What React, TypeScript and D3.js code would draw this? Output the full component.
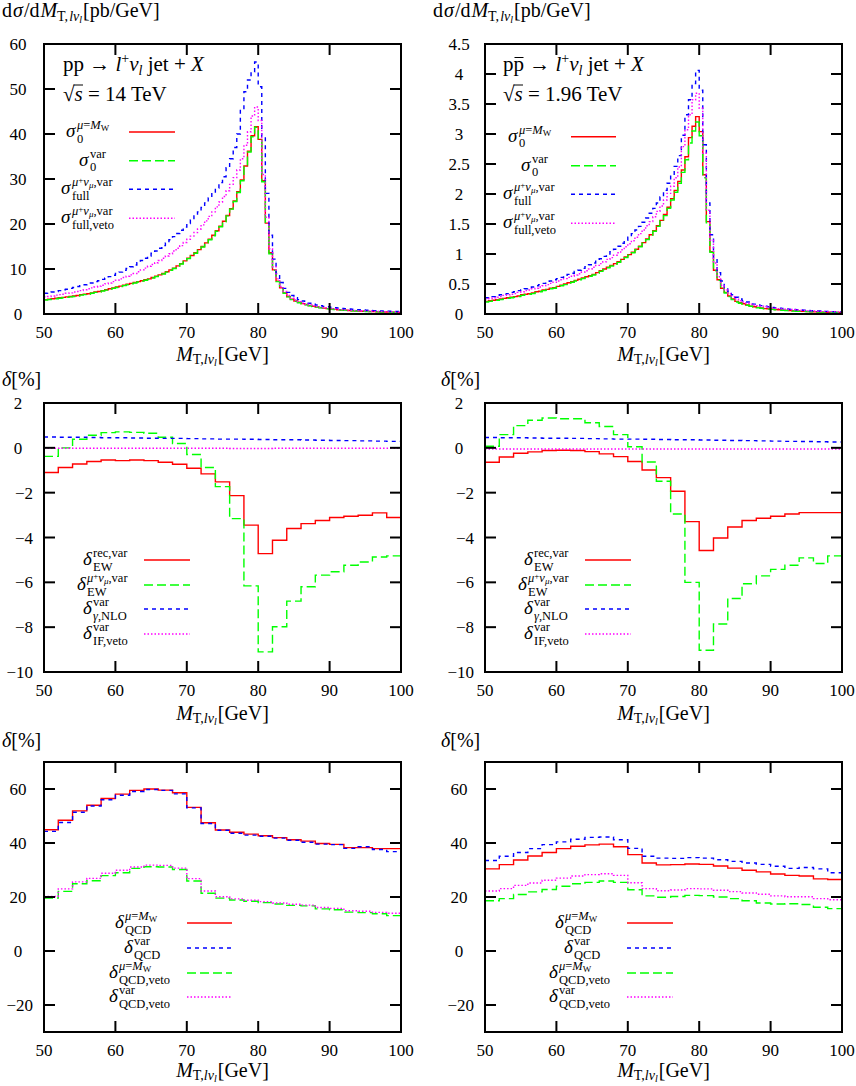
import * as d3 from "d3";

// ---- data ----
const X_TICKS = [50, 60, 70, 80, 90, 100];
const Y_TICKS_LHC = [0, 10, 20, 30, 40, 50, 60];
const Y_TICKS_TEV = [0, 0.5, 1, 1.5, 2, 2.5, 3, 3.5, 4, 4.5];
const Y_TICKS_EW = [-10, -8, -6, -4, -2, 0, 2];
const Y_TICKS_QCD = [-20, 0, 20, 40, 60];

// bin starts: 0.5 GeV for the distributions, 2 GeV for the corrections
const FINE_BINS = d3.range(50, 100, 0.5);
const COARSE_BINS = d3.range(50, 100, 2);

// LHC, pp, 14 TeV [pb/GeV]
const LHC_SIGMA0_MW = [
  3.2, 3.3, 3.4, 3.5, 3.6, 3.7, 3.8, 3.9, 4.0, 4.1,
  4.3, 4.4, 4.5, 4.7, 4.9, 5.0, 5.2, 5.4, 5.6, 5.8,
  6.0, 6.2, 6.4, 6.6, 6.8, 7.0, 7.2, 7.4, 7.6, 7.8,
  8.1, 8.4, 8.7, 9.0, 9.4, 9.8, 10.2, 10.7, 11.2, 11.8,
  12.4, 13.0, 13.6, 14.3, 15.0, 15.8, 16.6, 17.5, 18.5, 19.5,
  20.6, 21.9, 23.4, 25.1, 27.2, 29.8, 32.9, 36.2, 39.6, 41.6,
  38.8, 29.6, 20.2, 13.6, 9.8, 7.3, 5.8, 4.7, 3.9, 3.3,
  2.9, 2.6, 2.3, 2.1, 1.9, 1.7, 1.55, 1.42, 1.3, 1.2,
  1.1, 1.02, 0.95, 0.89, 0.83, 0.78, 0.73, 0.69, 0.65, 0.61,
  0.58, 0.55, 0.52, 0.49, 0.46, 0.44, 0.42, 0.4, 0.38, 0.36,
];
const LHC_SIGMA0_VAR = [
  3.1, 3.2, 3.3, 3.4, 3.5, 3.6, 3.7, 3.8, 3.9, 4.0,
  4.2, 4.3, 4.4, 4.6, 4.8, 4.9, 5.1, 5.3, 5.5, 5.7,
  5.9, 6.1, 6.3, 6.5, 6.7, 6.9, 7.1, 7.3, 7.5, 7.7,
  8.0, 8.3, 8.6, 8.9, 9.3, 9.7, 10.1, 10.6, 11.1, 11.7,
  12.3, 12.9, 13.5, 14.2, 14.9, 15.7, 16.5, 17.4, 18.4, 19.4,
  20.5, 21.8, 23.3, 25.0, 27.0, 29.6, 32.7, 36.0, 39.4, 41.5,
  38.6, 29.4, 20.0, 13.4, 9.7, 7.2, 5.7, 4.6, 3.8, 3.2,
  2.8, 2.5, 2.25, 2.05, 1.85, 1.68, 1.52, 1.4, 1.28, 1.18,
  1.08, 1.0, 0.93, 0.87, 0.81, 0.76, 0.71, 0.67, 0.63, 0.6,
  0.56, 0.53, 0.5, 0.48, 0.45, 0.43, 0.41, 0.39, 0.37, 0.35,
];
const LHC_SIGMA_FULL = [
  4.6, 4.7, 4.9, 5.0, 5.2, 5.4, 5.5, 5.7, 5.9, 6.1,
  6.3, 6.5, 6.7, 6.9, 7.2, 7.4, 7.7, 8.0, 8.3, 8.6,
  9.0, 9.3, 9.7, 10.1, 10.5, 10.9, 11.4, 11.9, 12.4, 12.9,
  13.5, 14.0, 14.6, 15.2, 15.8, 16.5, 17.2, 17.9, 18.6, 19.3,
  20.1, 20.9, 21.8, 22.7, 23.7, 24.7, 25.8, 26.9, 28.0, 29.2,
  30.5, 32.5, 34.5, 37.0, 40.0, 45.5, 49.4, 52.0, 53.8, 56.0,
  50.5, 39.4, 26.8, 17.5, 12.2, 9.0, 7.0, 5.7, 4.8, 4.1,
  3.6, 3.2, 2.9, 2.6, 2.4, 2.2, 2.0, 1.85, 1.7, 1.6,
  1.5, 1.4, 1.32, 1.24, 1.17, 1.1, 1.04, 0.98, 0.93, 0.88,
  0.84, 0.8, 0.76, 0.72, 0.69, 0.66, 0.63, 0.6, 0.57, 0.55,
];
const LHC_SIGMA_VETO = [
  3.8, 3.9, 4.0, 4.2, 4.3, 4.4, 4.6, 4.7, 4.9, 5.0,
  5.2, 5.4, 5.6, 5.8, 6.0, 6.2, 6.4, 6.7, 6.9, 7.2,
  7.5, 7.8, 8.1, 8.4, 8.7, 9.0, 9.4, 9.8, 10.2, 10.6,
  11.0, 11.4, 11.9, 12.4, 12.9, 13.4, 14.0, 14.6, 15.2, 15.9,
  16.6, 17.3, 18.1, 18.9, 19.8, 20.7, 21.7, 22.7, 23.8, 24.9,
  26.1, 27.4, 28.8, 30.3, 32.0, 34.5, 37.5, 40.5, 44.0, 46.0,
  43.0, 31.0, 21.5, 14.5, 10.5, 7.8, 6.1, 5.0, 4.1, 3.5,
  3.1, 2.75, 2.45, 2.2, 2.0, 1.82, 1.66, 1.52, 1.4, 1.3,
  1.2, 1.11, 1.04, 0.97, 0.91, 0.86, 0.81, 0.76, 0.72, 0.68,
  0.64, 0.61, 0.58, 0.55, 0.52, 0.5, 0.47, 0.45, 0.43, 0.41,
];

// Tevatron, p pbar, 1.96 TeV [pb/GeV]
const TEV_SIGMA0_MW = [
  0.21, 0.22, 0.23, 0.24, 0.25, 0.26, 0.27, 0.28, 0.29, 0.30,
  0.32, 0.33, 0.34, 0.35, 0.37, 0.38, 0.40, 0.41, 0.43, 0.44,
  0.46, 0.48, 0.50, 0.52, 0.54, 0.56, 0.58, 0.60, 0.62, 0.64,
  0.66, 0.69, 0.72, 0.75, 0.78, 0.81, 0.84, 0.87, 0.91, 0.95,
  0.99, 1.03, 1.08, 1.13, 1.19, 1.25, 1.32, 1.39, 1.47, 1.56,
  1.66, 1.78, 1.92, 2.06, 2.21, 2.40, 2.62, 2.94, 3.13, 3.29,
  3.04, 2.32, 1.54, 1.04, 0.73, 0.57, 0.43, 0.36, 0.30, 0.25,
  0.21, 0.19, 0.17, 0.15, 0.13, 0.12, 0.11, 0.10, 0.09, 0.085,
  0.08, 0.075, 0.07, 0.065, 0.06, 0.056, 0.052, 0.049, 0.046, 0.043,
  0.04, 0.038, 0.036, 0.034, 0.032, 0.03, 0.028, 0.026, 0.025, 0.024,
];
const TEV_SIGMA0_VAR = [
  0.20, 0.21, 0.22, 0.23, 0.24, 0.25, 0.26, 0.27, 0.28, 0.29,
  0.31, 0.32, 0.33, 0.34, 0.36, 0.37, 0.39, 0.40, 0.42, 0.43,
  0.45, 0.47, 0.49, 0.51, 0.53, 0.55, 0.57, 0.59, 0.61, 0.63,
  0.65, 0.68, 0.71, 0.74, 0.77, 0.80, 0.83, 0.86, 0.90, 0.94,
  0.98, 1.02, 1.07, 1.12, 1.18, 1.24, 1.31, 1.38, 1.46, 1.55,
  1.64, 1.76, 1.90, 2.03, 2.18, 2.36, 2.57, 2.85, 3.05, 3.20,
  2.97, 2.27, 1.52, 1.03, 0.72, 0.56, 0.42, 0.35, 0.29, 0.24,
  0.20, 0.18, 0.16, 0.145, 0.13, 0.12, 0.105, 0.095, 0.088, 0.082,
  0.077, 0.072, 0.067, 0.062, 0.058, 0.054, 0.05, 0.047, 0.044, 0.041,
  0.039, 0.037, 0.035, 0.033, 0.031, 0.029, 0.027, 0.025, 0.024, 0.023,
];
const TEV_SIGMA_FULL = [
  0.27, 0.28, 0.29, 0.31, 0.32, 0.33, 0.34, 0.36, 0.37, 0.39,
  0.40, 0.42, 0.43, 0.45, 0.47, 0.49, 0.51, 0.53, 0.55, 0.57,
  0.59, 0.61, 0.63, 0.66, 0.68, 0.71, 0.73, 0.76, 0.79, 0.82,
  0.85, 0.88, 0.92, 0.96, 1.00, 1.04, 1.08, 1.13, 1.18, 1.23,
  1.28, 1.34, 1.40, 1.46, 1.53, 1.60, 1.68, 1.76, 1.85, 1.95,
  2.06, 2.18, 2.31, 2.46, 2.64, 2.98, 3.32, 3.57, 3.84, 4.06,
  3.73, 2.82, 1.85, 1.32, 0.93, 0.69, 0.55, 0.45, 0.38, 0.32,
  0.28, 0.25, 0.22, 0.2, 0.18, 0.165, 0.15, 0.14, 0.13, 0.12,
  0.11, 0.105, 0.098, 0.092, 0.086, 0.08, 0.075, 0.07, 0.066, 0.062,
  0.058, 0.055, 0.052, 0.049, 0.046, 0.043, 0.041, 0.039, 0.037, 0.035,
];
const TEV_SIGMA_VETO = [
  0.25, 0.26, 0.27, 0.28, 0.29, 0.31, 0.32, 0.33, 0.34, 0.36,
  0.37, 0.39, 0.40, 0.42, 0.43, 0.45, 0.47, 0.49, 0.51, 0.53,
  0.55, 0.57, 0.59, 0.61, 0.63, 0.65, 0.67, 0.70, 0.72, 0.75,
  0.78, 0.81, 0.84, 0.87, 0.91, 0.94, 0.98, 1.02, 1.07, 1.12,
  1.17, 1.22, 1.28, 1.34, 1.40, 1.47, 1.54, 1.62, 1.71, 1.80,
  1.90, 2.01, 2.13, 2.27, 2.45, 2.79, 3.07, 3.32, 3.57, 3.68,
  3.43, 2.68, 1.73, 1.23, 0.85, 0.62, 0.48, 0.40, 0.34, 0.29,
  0.25, 0.22, 0.2, 0.18, 0.165, 0.15, 0.14, 0.13, 0.12, 0.11,
  0.1, 0.095, 0.09, 0.085, 0.08, 0.075, 0.07, 0.066, 0.062, 0.058,
  0.055, 0.052, 0.049, 0.046, 0.043, 0.041, 0.039, 0.037, 0.035, 0.033,
];

// electroweak corrections [%]
const EW_LHC_REC = [-1.1, -0.88, -0.72, -0.61, -0.54, -0.57, -0.54, -0.57, -0.64, -0.73, -0.91, -1.16, -1.52, -2.13, -3.45, -4.72, -4.12, -3.6, -3.38, -3.24, -3.11, -3.05, -3.01, -2.9, -3.11];
const EW_LHC_MU = [-0.38, 0.0, 0.38, 0.56, 0.68, 0.71, 0.69, 0.65, 0.47, 0.19, -0.3, -0.88, -1.73, -3.16, -6.16, -9.1, -7.98, -6.84, -6.2, -5.68, -5.53, -5.24, -5.09, -4.87, -4.82];
const EW_LHC_GAMMA = [0.48, 0.47, 0.47, 0.46, 0.45, 0.45, 0.44, 0.43, 0.42, 0.42, 0.41, 0.4, 0.39, 0.39, 0.38, 0.37, 0.36, 0.36, 0.35, 0.34, 0.33, 0.32, 0.31, 0.3, 0.29];
const EW_LHC_IF = [-0.02, -0.02, -0.02, -0.02, -0.02, -0.02, -0.02, -0.02, -0.02, -0.02, -0.02, -0.02, -0.02, -0.03, -0.03, -0.03, -0.02, -0.02, -0.02, -0.02, -0.02, -0.02, -0.02, -0.02, -0.02];
const EW_TEV_REC = [-0.64, -0.41, -0.24, -0.18, -0.12, -0.11, -0.12, -0.17, -0.27, -0.39, -0.61, -0.99, -1.33, -1.94, -3.29, -4.58, -4.02, -3.53, -3.24, -3.14, -3.05, -2.95, -2.89, -2.89, -2.89];
const EW_TEV_MU = [0.07, 0.59, 0.99, 1.23, 1.33, 1.3, 1.3, 1.12, 0.95, 0.59, 0.05, -0.63, -1.49, -2.95, -6.0, -9.03, -7.86, -6.72, -6.06, -5.71, -5.42, -5.24, -4.91, -5.16, -4.82];
const EW_TEV_GAMMA = [0.46, 0.45, 0.45, 0.44, 0.43, 0.43, 0.42, 0.41, 0.4, 0.39, 0.39, 0.38, 0.37, 0.36, 0.36, 0.35, 0.34, 0.33, 0.32, 0.31, 0.3, 0.29, 0.28, 0.27, 0.26];
const EW_TEV_IF = [-0.05, -0.05, -0.05, -0.05, -0.05, -0.05, -0.05, -0.05, -0.05, -0.05, -0.05, -0.05, -0.05, -0.05, -0.05, -0.05, -0.05, -0.05, -0.05, -0.05, -0.05, -0.05, -0.05, -0.05, -0.05];

// QCD corrections [%]
const QCD_LHC_MW = [44.9, 48.4, 51.9, 54.0, 56.5, 58.1, 59.5, 60.0, 59.6, 58.6, 53.2, 47.5, 44.8, 44.0, 43.3, 42.7, 42.0, 41.2, 40.7, 39.8, 39.5, 38.3, 38.3, 37.9, 37.9];
const QCD_LHC_VAR = [44.3, 47.6, 51.4, 53.7, 56.0, 57.7, 59.1, 59.8, 59.5, 58.2, 53.0, 47.2, 44.7, 43.6, 42.9, 42.5, 41.8, 41.0, 40.3, 39.6, 39.4, 38.0, 38.6, 37.6, 36.8];
const QCD_LHC_VETO_MW = [19.6, 22.1, 24.9, 26.0, 27.9, 29.0, 30.6, 31.2, 31.1, 30.2, 25.9, 21.4, 19.6, 18.9, 18.4, 17.9, 17.4, 16.9, 16.7, 15.6, 15.3, 14.4, 14.2, 13.8, 13.1];
const QCD_LHC_VETO_VAR = [20.2, 23.0, 25.6, 26.9, 28.8, 29.9, 31.1, 31.8, 31.7, 30.7, 26.8, 22.2, 20.1, 19.3, 18.8, 18.3, 17.8, 17.3, 17.0, 16.1, 15.8, 14.9, 14.7, 14.3, 14.0];
const QCD_TEV_MW = [30.4, 32.0, 33.7, 35.2, 36.5, 37.9, 38.8, 39.3, 39.6, 38.6, 35.7, 32.6, 31.9, 32.0, 32.2, 32.1, 31.5, 30.7, 29.9, 29.3, 28.5, 28.0, 27.8, 26.7, 26.5];
const QCD_TEV_VAR = [33.5, 35.1, 36.5, 37.9, 39.4, 40.4, 41.4, 42.1, 42.2, 41.2, 38.0, 35.1, 34.4, 34.3, 34.6, 34.4, 33.8, 33.2, 32.6, 32.1, 31.4, 30.6, 30.9, 30.4, 29.0];
const QCD_TEV_VETO_MW = [18.6, 19.4, 20.9, 21.9, 22.8, 24.0, 24.9, 25.4, 25.9, 25.4, 22.7, 20.4, 19.9, 20.2, 20.6, 20.5, 20.0, 19.4, 18.6, 17.8, 17.4, 17.5, 17.2, 16.2, 15.7];
const QCD_TEV_VETO_VAR = [22.2, 23.1, 24.3, 25.2, 26.2, 27.0, 27.8, 28.3, 28.6, 28.0, 25.3, 23.1, 22.3, 22.6, 23.1, 23.0, 22.5, 22.0, 21.5, 21.0, 20.4, 20.1, 20.1, 19.4, 19.0];

// ---- styles ----
const FONT = "'Liberation Serif', 'DejaVu Serif', serif";
const RED = { stroke: "#ff0000", dash: undefined as string | undefined };
const GREEN = { stroke: "#00ff00", dash: "9 4" };
const BLUE = { stroke: "#0000ff", dash: "4 4" };
const MAGENTA = { stroke: "#ff00ff", dash: "1.5 2" };

type Series = { bins: number[]; width: number; values: number[]; style: { stroke: string; dash?: string } };
type PanelSpec = {
  left: number;
  right: number;
  top: number;
  bottom: number;
  yDomain: [number, number];
  yTicks: number[];
  series: Series[];
  titleGap: number;
};

const fmt = (v: number) => String(v).replace("-", "\u2212");

function Panel({ spec, id }: { spec: PanelSpec; id: string }) {
  const x = d3.scaleLinear().domain([50, 100]).range([spec.left, spec.right]);
  const y = d3.scaleLinear().domain(spec.yDomain).range([spec.bottom, spec.top]);
  const line = d3
    .line<[number, number]>()
    .x((d) => x(d[0]))
    .y((d) => y(d[1]))
    .curve(d3.curveStepAfter);
  const tick = 11;

  return (
    <g>
      <clipPath id={id}>
        <rect x={spec.left} y={spec.top} width={spec.right - spec.left} height={spec.bottom - spec.top} />
      </clipPath>
      <g clipPath={`url(#${id})`}>
        {spec.series.map((s, i) => {
          const pts: [number, number][] = s.bins.map((b, j) => [b, s.values[j]]);
          pts.push([s.bins[s.bins.length - 1] + s.width, s.values[s.values.length - 1]]);
          return (
            <path
              key={i}
              d={line(pts) ?? ""}
              fill="none"
              stroke={s.style.stroke}
              strokeWidth={1.4}
              strokeDasharray={s.style.dash}
            />
          );
        })}
      </g>
      {X_TICKS.map((t) => (
        <g key={`x${t}`}>
          <line x1={x(t)} x2={x(t)} y1={spec.bottom} y2={spec.bottom - tick} stroke="#000" strokeWidth={2} />
          <line x1={x(t)} x2={x(t)} y1={spec.top} y2={spec.top + tick} stroke="#000" strokeWidth={2} />
          <text x={x(t)} y={spec.bottom + 24} textAnchor="middle" fontSize={17}>
            {fmt(t)}
          </text>
        </g>
      ))}
      {spec.yTicks.map((t) => (
        <g key={`y${t}`}>
          <line x1={spec.left} x2={spec.left + tick} y1={y(t)} y2={y(t)} stroke="#000" strokeWidth={2} />
          <line x1={spec.right} x2={spec.right - tick} y1={y(t)} y2={y(t)} stroke="#000" strokeWidth={2} />
          <text
            x={t < 0 ? spec.left - 11 : spec.left - 26}
            y={y(t) + 6}
            textAnchor={t < 0 ? "end" : "middle"}
            fontSize={17}
          >
            {fmt(t)}
          </text>
        </g>
      ))}
      <rect
        x={spec.left}
        y={spec.top}
        width={spec.right - spec.left}
        height={spec.bottom - spec.top}
        fill="none"
        stroke="#000"
        strokeWidth={2}
      />
      <XTitle cx={(spec.left + spec.right) / 2} y={spec.bottom + spec.titleGap} />
    </g>
  );
}

function XTitle({ cx, y }: { cx: number; y: number }) {
  return (
    <text x={cx} y={y} textAnchor="middle" fontSize={20}>
      <tspan fontStyle="italic">M</tspan>
      <tspan fontSize={14} dy={3}>T,</tspan>
      <tspan fontSize={14} fontStyle="italic">lν</tspan>
      <tspan fontSize={10} fontStyle="italic" dy={1.5}>l</tspan>
      <tspan dy={-4.5} dx={1}>[GeV]</tspan>
    </text>
  );
}

function SigmaTitle({ x, y }: { x: number; y: number }) {
  return (
    <text x={x} y={y} fontSize={20}>
      d<tspan fontStyle="italic" dx={1}>σ</tspan>
      <tspan dx={1}>/d</tspan>
      <tspan fontStyle="italic" dx={1}>M</tspan>
      <tspan fontSize={14} dy={4}>T,</tspan>
      <tspan fontSize={14} fontStyle="italic" dx={1}>lν</tspan>
      <tspan fontSize={10} fontStyle="italic" dy={2}>l</tspan>
      <tspan dy={-6} dx={1}>[pb/GeV]</tspan>
    </text>
  );
}

function DeltaTitle({ x, y }: { x: number; y: number }) {
  return (
    <text x={x} y={y} fontSize={20}>
      <tspan fontStyle="italic">δ</tspan>[%]
    </text>
  );
}

const SupMW = () => (
  <>
    <tspan fontStyle="italic">μ</tspan>=<tspan fontStyle="italic">M</tspan>
    <tspan fontSize={9} dy={2}>W</tspan>
  </>
);
const SupMuNu = () => (
  <>
    <tspan fontStyle="italic">μ</tspan>
    <tspan fontSize={9} dy={-3}>+</tspan>
    <tspan fontStyle="italic" dy={3}>ν</tspan>
    <tspan fontSize={9} fontStyle="italic" dy={2}>μ</tspan>
    <tspan dy={-2}>,var</tspan>
  </>
);

type LegendEntry = { base: string; sub: React.ReactNode; sup: React.ReactNode; off: number; style: { stroke: string; dash?: string } };

function Legend({ x0, x1, ys, entries, baseW }: { x0: number; x1: number; ys: number[]; entries: LegendEntry[]; baseW: number }) {
  return (
    <g>
      {entries.map((e, i) => {
        const ly = ys[i];
        const bx = x0 + e.off;
        return (
          <g key={i}>
            <text x={bx} y={ly + 5} fontSize={19} fontStyle="italic">
              {e.base}
            </text>
            <text x={bx + baseW} y={ly + 10.5} fontSize={12.5}>
              {e.sub}
            </text>
            <text x={bx + baseW} y={ly - 3} fontSize={12.5}>
              {e.sup}
            </text>
            <line x1={x0} x2={x1} y1={ly} y2={ly} stroke={e.style.stroke} strokeWidth={1.4} strokeDasharray={e.style.dash} />
          </g>
        );
      })}
    </g>
  );
}

function Process({ x, y, bar }: { x: number; y: number; bar: boolean }) {
  return (
    <g>
      <text x={x} y={y} fontSize={21}>
        {"pp \u2192 "}
        <tspan fontStyle="italic">l</tspan>
        <tspan fontSize={14} dy={-8}>+</tspan>
        <tspan fontStyle="italic" dy={8}>ν</tspan>
        <tspan fontSize={14} fontStyle="italic" dy={4}>l</tspan>
        <tspan dy={-4}>{" jet + "}</tspan>
        <tspan fontStyle="italic">X</tspan>
      </text>
      {bar ? <line x1={x + 11.5} x2={x + 20.5} y1={y - 13.5} y2={y - 13.5} stroke="#000" strokeWidth={1} /> : null}
    </g>
  );
}

function Energy({ x, y, label }: { x: number; y: number; label: string }) {
  return (
    <g>
      <text x={x} y={y} fontSize={21}>
        {"\u221A"}
        <tspan fontStyle="italic">s</tspan>
        {` = ${label}`}
      </text>
      <line x1={x + 10.5} x2={x + 20} y1={y - 16} y2={y - 16} stroke="#000" strokeWidth={1} />
    </g>
  );
}

const LHC_LEFT = 44;
const TEV_LEFT = 485;
const WIDTH = 357;

const panels: PanelSpec[] = [
  {
    left: LHC_LEFT, right: LHC_LEFT + WIDTH, top: 44, bottom: 314, yDomain: [0, 60], yTicks: Y_TICKS_LHC, titleGap: 47,
    series: [
      { bins: FINE_BINS, width: 0.5, values: LHC_SIGMA0_MW, style: RED },
      { bins: FINE_BINS, width: 0.5, values: LHC_SIGMA0_VAR, style: GREEN },
      { bins: FINE_BINS, width: 0.5, values: LHC_SIGMA_FULL, style: BLUE },
      { bins: FINE_BINS, width: 0.5, values: LHC_SIGMA_VETO, style: MAGENTA },
    ],
  },
  {
    left: TEV_LEFT, right: TEV_LEFT + WIDTH, top: 44, bottom: 314, yDomain: [0, 4.5], yTicks: Y_TICKS_TEV, titleGap: 47,
    series: [
      { bins: FINE_BINS, width: 0.5, values: TEV_SIGMA0_MW, style: RED },
      { bins: FINE_BINS, width: 0.5, values: TEV_SIGMA0_VAR, style: GREEN },
      { bins: FINE_BINS, width: 0.5, values: TEV_SIGMA_FULL, style: BLUE },
      { bins: FINE_BINS, width: 0.5, values: TEV_SIGMA_VETO, style: MAGENTA },
    ],
  },
  {
    left: LHC_LEFT, right: LHC_LEFT + WIDTH, top: 403, bottom: 672, yDomain: [-10, 2], yTicks: Y_TICKS_EW, titleGap: 48,
    series: [
      { bins: COARSE_BINS, width: 2, values: EW_LHC_REC, style: RED },
      { bins: COARSE_BINS, width: 2, values: EW_LHC_MU, style: GREEN },
      { bins: COARSE_BINS, width: 2, values: EW_LHC_GAMMA, style: BLUE },
      { bins: COARSE_BINS, width: 2, values: EW_LHC_IF, style: MAGENTA },
    ],
  },
  {
    left: TEV_LEFT, right: TEV_LEFT + WIDTH, top: 403, bottom: 672, yDomain: [-10, 2], yTicks: Y_TICKS_EW, titleGap: 48,
    series: [
      { bins: COARSE_BINS, width: 2, values: EW_TEV_REC, style: RED },
      { bins: COARSE_BINS, width: 2, values: EW_TEV_MU, style: GREEN },
      { bins: COARSE_BINS, width: 2, values: EW_TEV_GAMMA, style: BLUE },
      { bins: COARSE_BINS, width: 2, values: EW_TEV_IF, style: MAGENTA },
    ],
  },
  {
    left: LHC_LEFT, right: LHC_LEFT + WIDTH, top: 762, bottom: 1032, yDomain: [-30, 70], yTicks: Y_TICKS_QCD, titleGap: 45,
    series: [
      { bins: COARSE_BINS, width: 2, values: QCD_LHC_MW, style: RED },
      { bins: COARSE_BINS, width: 2, values: QCD_LHC_VAR, style: BLUE },
      { bins: COARSE_BINS, width: 2, values: QCD_LHC_VETO_MW, style: GREEN },
      { bins: COARSE_BINS, width: 2, values: QCD_LHC_VETO_VAR, style: MAGENTA },
    ],
  },
  {
    left: TEV_LEFT, right: TEV_LEFT + WIDTH, top: 762, bottom: 1032, yDomain: [-30, 70], yTicks: Y_TICKS_QCD, titleGap: 45,
    series: [
      { bins: COARSE_BINS, width: 2, values: QCD_TEV_MW, style: RED },
      { bins: COARSE_BINS, width: 2, values: QCD_TEV_VAR, style: BLUE },
      { bins: COARSE_BINS, width: 2, values: QCD_TEV_VETO_MW, style: GREEN },
      { bins: COARSE_BINS, width: 2, values: QCD_TEV_VETO_VAR, style: MAGENTA },
    ],
  },
];

const sigmaEntries: LegendEntry[] = [
  { base: "σ", sub: "0", sup: <SupMW />, off: -63, style: RED },
  { base: "σ", sub: "0", sup: "var", off: -50, style: GREEN },
  { base: "σ", sub: "full", sup: <SupMuNu />, off: -68, style: BLUE },
  { base: "σ", sub: "full,veto", sup: <SupMuNu />, off: -68, style: MAGENTA },
];

const ewEntries: LegendEntry[] = [
  { base: "δ", sub: "EW", sup: "rec,var", off: -61, style: RED },
  { base: "δ", sub: "EW", sup: <SupMuNu />, off: -67, style: GREEN },
  {
    base: "δ",
    sub: (
      <>
        <tspan fontStyle="italic">γ</tspan>,NLO
      </>
    ),
    sup: "var",
    off: -61,
    style: BLUE,
  },
  { base: "δ", sub: "IF,veto", sup: "var", off: -61, style: MAGENTA },
];

const qcdEntries: LegendEntry[] = [
  { base: "δ", sub: "QCD", sup: <SupMW />, off: -72, style: RED },
  { base: "δ", sub: "QCD", sup: "var", off: -63, style: BLUE },
  { base: "δ", sub: "QCD,veto", sup: <SupMW />, off: -78, style: GREEN },
  { base: "δ", sub: "QCD,veto", sup: "var", off: -78, style: MAGENTA },
];

export default function App() {
  return (
    <div style={{ position: "absolute", left: 0, top: 0 }}>
      <svg width={856} height={1086} style={{ display: "block", background: "#fff" }} fontFamily={FONT}>
        {panels.map((p, i) => (
          <Panel key={i} spec={p} id={`clip${i}`} />
        ))}

        <SigmaTitle x={2} y={17} />
        <SigmaTitle x={433} y={17} />
        <DeltaTitle x={2} y={386} />
        <DeltaTitle x={441} y={386} />
        <DeltaTitle x={2} y={747} />
        <DeltaTitle x={441} y={747} />

        <Process x={63} y={71} bar={false} />
        <Energy x={63} y={101} label="14 TeV" />
        <Process x={503} y={71} bar={true} />
        <Energy x={503} y={101} label="1.96 TeV" />

        <Legend x0={129} x1={175} ys={[132, 160.7, 189.3, 218.3]} entries={sigmaEntries} baseW={11} />
        <Legend x0={571} x1={616} ys={[136.7, 165.7, 194.3, 223.3]} entries={sigmaEntries} baseW={11} />
        <Legend x0={144} x1={190} ys={[560, 585, 609, 634]} entries={ewEntries} baseW={10} />
        <Legend x0={585} x1={631} ys={[560, 585, 609, 634]} entries={ewEntries} baseW={10} />
        <Legend x0={187} x1={232} ys={[923, 948, 973, 997]} entries={qcdEntries} baseW={10} />
        <Legend x0={627} x1={673} ys={[923, 948, 973, 997]} entries={qcdEntries} baseW={10} />
      </svg>
    </div>
  );
}
